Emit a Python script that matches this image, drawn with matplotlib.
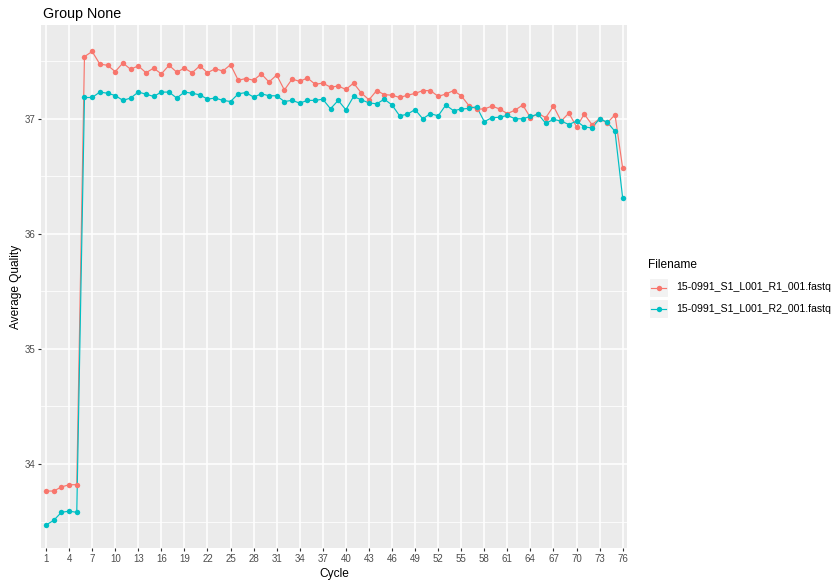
import numpy as np
import matplotlib
matplotlib.use("Agg")
import matplotlib.pyplot as plt
from matplotlib.patches import Rectangle
from matplotlib.lines import Line2D

plt.rcParams["font.family"] = ["Liberation Sans", "DejaVu Sans"]

# qualidade media por ciclo, uma serie para cada arquivo fastq
cycles = np.arange(1, 77)
r1_quality = [
    33.765, 33.765, 33.80, 33.82, 33.82, 37.54, 37.585, 37.475, 37.465, 37.41,
    37.485, 37.43, 37.46, 37.40, 37.44, 37.39, 37.465, 37.405, 37.44, 37.40,
    37.46, 37.40, 37.435, 37.415, 37.47, 37.335, 37.35, 37.335, 37.39, 37.32,
    37.38, 37.25, 37.345, 37.325, 37.355, 37.30, 37.31, 37.275, 37.285, 37.255,
    37.31, 37.225, 37.165, 37.245, 37.21, 37.205, 37.185, 37.205, 37.22, 37.245,
    37.245, 37.195, 37.215, 37.245, 37.20, 37.115, 37.085, 37.085, 37.11, 37.085,
    37.045, 37.075, 37.12, 37.01, 37.045, 37.01, 37.11, 36.98, 37.05, 36.93,
    37.04, 36.95, 37.00, 36.965, 37.035, 36.57,
]
r2_quality = [
    33.47, 33.51, 33.58, 33.59, 33.58, 37.185, 37.185, 37.232, 37.222, 37.202,
    37.16, 37.18, 37.232, 37.214, 37.194, 37.232, 37.232, 37.18, 37.232, 37.222,
    37.208, 37.171, 37.18, 37.16, 37.15, 37.217, 37.228, 37.188, 37.217, 37.20,
    37.20, 37.15, 37.16, 37.136, 37.16, 37.16, 37.17, 37.087, 37.16, 37.078,
    37.194, 37.165, 37.138, 37.13, 37.17, 37.12, 37.025, 37.04, 37.08, 37.00,
    37.045, 37.025, 37.12, 37.07, 37.085, 37.09, 37.105, 36.975, 37.01, 37.013,
    37.03, 37.00, 37.00, 37.02, 37.04, 36.96, 36.995, 36.98, 36.95, 36.98,
    36.93, 36.92, 37.00, 36.97, 36.89, 36.31,
]
filenames = ["15-0991_S1_L001_R1_001.fastq", "15-0991_S1_L001_R2_001.fastq"]
colors = ["#F8766D", "#00BFC4"]
x_ticks = list(range(1, 77, 3))
y_ticks = [34, 35, 36, 37]

W, H = 837, 585
fig = plt.figure(figsize=(W / 100, H / 100), dpi=100)
ax = fig.add_axes([41.4 / W, 1 - 548 / H, (627.3 - 41.4) / W, (548 - 25) / H])
ax.set_facecolor("#EBEBEB")

series = [r1_quality, r2_quality]
# linhas primeiro, pontos por cima (igual ao ggplot)
for vals, c in zip(series, colors):
    ax.plot(cycles, vals, color=c, lw=0.85, zorder=3)
for vals, c in zip(series, colors):
    ax.plot(cycles, vals, "o", color=c, ms=3.9, mew=0, zorder=4)

ax.set_xlim(0.4, 76.6)
ax.set_ylim(33.27, 37.815)
ax.set_xticks(x_ticks)
ax.set_xticklabels([str(t) for t in x_ticks])
ax.set_yticks(y_ticks)
ax.set_yticks(np.arange(33.5, 37.6, 1.0), minor=True)

ax.grid(True, which="major", color="white", lw=1.1)
ax.grid(True, which="minor", axis="y", color="white", lw=0.55)
ax.set_axisbelow(True)
for s in ax.spines.values():
    s.set_visible(False)
ax.tick_params(which="major", length=2.4, width=0.8, color="#333333",
               labelsize=7, labelcolor="#4D4D4D", pad=2)
ax.tick_params(which="minor", length=0)

ax.set_xlabel("Cycle", fontsize=8.6, labelpad=3)
ax.set_ylabel("Average Quality", fontsize=8.6, labelpad=1.5)
fig.text(43 / W, 1 - 18 / H, "Group None", fontsize=10.3, va="baseline", ha="left")

# legenda desenhada a mao, com as caixinhas cinza do ggplot
fig.text(648 / W, 1 - 268 / H, "Filename", fontsize=8.6, va="baseline", ha="left")
for i, (name, c) in enumerate(zip(filenames, colors)):
    yc = 287.5 + i * 21.3
    fig.add_artist(Rectangle((649 / W, 1 - (yc + 9.5) / H), 19 / W, 19 / H,
                             transform=fig.transFigure, facecolor="#F2F2F2",
                             edgecolor="white", lw=0.8))
    fig.add_artist(Line2D([651 / W, 666 / W], [1 - yc / H, 1 - yc / H],
                          transform=fig.transFigure, color=c, lw=0.85))
    fig.add_artist(Line2D([658.5 / W], [1 - yc / H], transform=fig.transFigure,
                          marker="o", color=c, ms=3.9, mew=0))
    fig.text(676 / W, 1 - yc / H, name, fontsize=7.6, va="center", ha="left")

fig.savefig("out.png", dpi=100)
